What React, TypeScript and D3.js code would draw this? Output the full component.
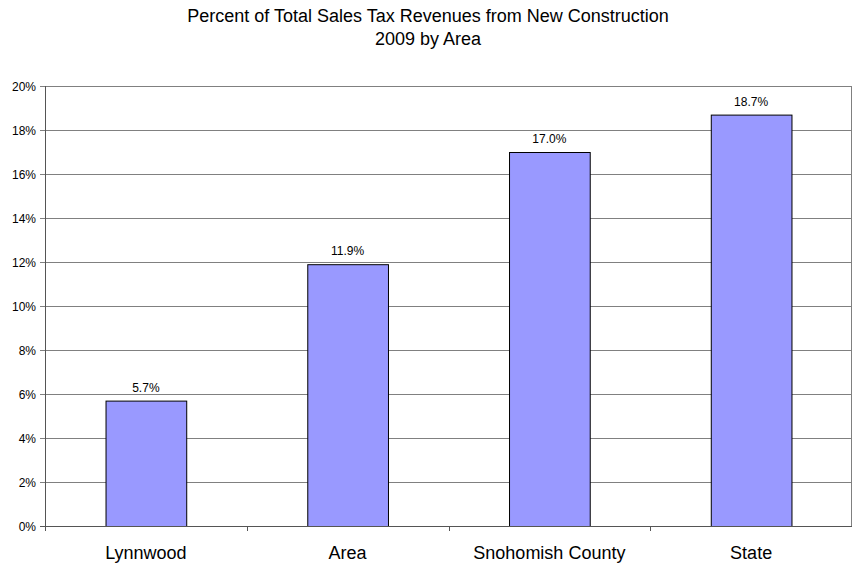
import React from "react";
import * as d3 from "d3";

const categories = ["Lynnwood", "Area", "Snohomish County", "State"];
const values = [5.7, 11.9, 17.0, 18.7];
const yTicks = [0, 2, 4, 6, 8, 10, 12, 14, 16, 18, 20];
const titleLines = ["Percent of Total Sales Tax Revenues from New Construction", "2009 by Area"];

export default function App() {
  const W = 855, H = 565;
  const left = 45, right = 852, top = 86, bottom = 526;
  const x = d3.scaleBand<string>().domain(categories).range([left, right]).paddingInner(0.6).paddingOuter(0.3);
  const xc = d3.scaleBand<string>().domain(categories).range([left, right]);
  const y = d3.scaleLinear().domain([0, 20]).range([bottom, top]);
  const font = "'Liberation Sans', Arial, sans-serif";
  return (
    <svg width={W} height={H} style={{ position: "absolute", left: 0, top: 0, background: "#fff" }} fontFamily={font}>
      {titleLines.map((t, i) => (
        <text key={i} x={428} y={22 + i * 23} textAnchor="middle" fontSize={18} fill="#000">{t}</text>
      ))}
      {yTicks.map((t) => (
        <g key={t}>
          <line x1={left - 5} x2={right} y1={y(t) + 0.5} y2={y(t) + 0.5} stroke={t === 0 ? "#555" : "#808080"} strokeWidth={1} />
          <text x={36} y={y(t) + 5} textAnchor="end" fontSize={12} fill="#000">{t}%</text>
        </g>
      ))}
      <line x1={right - 0.5} x2={right - 0.5} y1={top} y2={bottom} stroke="#808080" />
      {categories.map((c, i) => {
        const v = values[i];
        const bx = x(c)!;
        return (
          <g key={c}>
            <rect x={bx + 0.5} y={y(v) + 0.5} width={x.bandwidth()} height={y(0) - y(v)} fill="#9999FF" stroke="#000" strokeWidth={1} />
            <text x={bx + x.bandwidth() / 2} y={y(v) - 9} textAnchor="middle" fontSize={12} fill="#000">{v.toFixed(1)}%</text>
            <text x={xc(c)! + xc.bandwidth() / 2} y={559} textAnchor="middle" fontSize={18} fill="#000">{c}</text>
          </g>
        );
      })}
      {categories.slice(1).map((c) => (
        <line key={c} x1={Math.round(xc(c)!) + 0.5} x2={Math.round(xc(c)!) + 0.5} y1={bottom} y2={bottom + 5} stroke="#555" />
      ))}
      <line x1={left + 0.5} x2={left + 0.5} y1={top} y2={bottom + 5} stroke="#555" />
      <line x1={left} x2={right} y1={bottom + 0.5} y2={bottom + 0.5} stroke="#555" />
    </svg>
  );
}
